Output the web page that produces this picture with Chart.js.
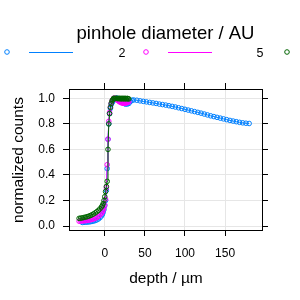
<!DOCTYPE html>
<html>
<head>
<meta charset="utf-8">
<script src="https://cdn.jsdelivr.net/npm/chart.js@4"></script>
<style>
  html, body { margin: 0; padding: 0; background: #fff; }
  #plot { display: block; }
</style>
</head>
<body>
<canvas id="plot" width="300" height="300"></canvas>
<script>
// pinhole diameters (legend labels)
const seriesNames = ["2", "5", "10"];
const seriesColors = ["#0080ff", "#ff00ff", "#006400"];

// depth / µm and normalized counts
const depth2 = [-28, -26, -24, -22, -20, -18, -16, -14, -12, -10, -8, -6, -4, -3, -2, -1, 0, 1, 2, 3, 4, 5, 6, 7, 8, 9, 10,
    11, 12, 13, 14, 15, 16, 17, 18, 19, 20, 21, 22, 23, 24, 25, 26, 28, 30, 32, 34, 36, 40, 44, 48, 52, 56, 60, 64, 68,
    72, 76, 80, 84, 88, 92, 96, 100, 104, 108, 112, 116, 120, 124, 128, 132, 136, 140, 144, 148, 152, 156, 160, 164,
    168, 172, 176, 180];
const counts2 = [0.028, 0.029, 0.030, 0.031, 0.032, 0.034, 0.036, 0.039, 0.043, 0.048, 0.055, 0.065, 0.080, 0.092, 0.108,
    0.130, 0.160, 0.200, 0.280, 0.450, 0.680, 0.800, 0.880, 0.920, 0.950, 0.965, 0.975,
    0.985, 0.990, 0.995, 1.000, 1.000, 1.000, 0.995, 0.990, 0.985, 0.980, 0.975, 0.970, 0.965, 0.960, 0.958, 0.955,
    0.955, 0.960, 0.975, 0.985, 0.987, 0.985, 0.980, 0.976, 0.972, 0.968, 0.964, 0.960, 0.955,
    0.951, 0.947, 0.942, 0.937, 0.932, 0.926, 0.920, 0.914, 0.908, 0.902, 0.896, 0.890, 0.884, 0.877, 0.870, 0.863,
    0.857, 0.851, 0.845, 0.839, 0.833, 0.827, 0.822, 0.817, 0.812, 0.808, 0.805, 0.803];

const depth5 = [-32, -30, -28, -26, -24, -22, -20, -18, -16, -14, -12, -10, -8, -6, -4, -3, -2, -1, 0, 1, 2, 3, 4, 5, 6,
    7, 8, 9, 10, 11, 12, 13, 14, 15, 16, 17, 18, 19, 20, 21, 22, 23, 24, 25, 26, 27, 28, 29, 30];
const counts5 = [0.038, 0.039, 0.040, 0.041, 0.042, 0.044, 0.046, 0.049, 0.052, 0.056, 0.061, 0.067, 0.075, 0.086, 0.100,
    0.112, 0.125, 0.145, 0.165, 0.210, 0.300, 0.480, 0.680, 0.820, 0.890,
    0.930, 0.960, 0.980, 0.990, 1.000, 1.000, 1.000, 0.995, 0.990, 0.985, 0.980, 0.975, 0.970, 0.968, 0.965, 0.963,
    0.962, 0.962, 0.962, 0.963, 0.965, 0.967, 0.970, 0.972];

const depth10 = [-32, -30, -28, -26, -24, -22, -20, -18, -16, -14, -12, -10, -8, -6, -4, -3, -2, -1, 0, 1, 2, 3, 4, 5,
    6, 7, 8, 9, 10, 11, 12, 13, 14, 15, 16, 17, 18, 19, 20, 21, 22, 23, 24, 25, 26, 27, 28, 29, 30];
const counts10 = [0.060, 0.062, 0.064, 0.067, 0.070, 0.073, 0.077, 0.082, 0.088, 0.095, 0.103, 0.112, 0.122, 0.135, 0.150,
    0.160, 0.175, 0.200, 0.230, 0.270, 0.310, 0.350, 0.600, 0.800,
    0.880, 0.930, 0.960, 0.980, 0.990, 1.000, 1.000, 0.998, 1.000, 1.000, 0.997, 1.000, 0.998, 1.000, 0.995, 1.000,
    0.997, 1.000, 0.995, 1.000, 0.998, 0.995, 1.000, 0.997, 0.995];

// axes
const xTicks = [0, 50, 100, 150];
const yTicks = [0, 0.2, 0.4, 0.6, 0.8, 1.0];
const xRange = [-44.6, 196];
const yRange = [-0.031, 1.073];

Chart.defaults.font.family = "'Liberation Sans', Arial, sans-serif";
Chart.defaults.color = "#000";

const toPoints = (xs, ys) => xs.map((x, i) => ({ x: x, y: ys[i] }));
const setTicks = (list) => (scale) => { scale.ticks = list.map(v => ({ value: v })); };

// lattice style key and axis titles
const latticeText = {
    id: "latticeText",
    afterDraw(chart) {
        const ctx = chart.ctx;
        ctx.save();
        ctx.fillStyle = "#000";
        ctx.textAlign = "center";
        ctx.textBaseline = "middle";

        ctx.font = "18.5px 'Liberation Sans', Arial, sans-serif";
        ctx.fillText("pinhole diameter / AU", 165.5, 34);

        // key row
        const keyY = 52;
        const keyItems = [
            { circle: 7, line: [29, 73], label: 122 },
            { circle: 146, line: [168, 212], label: 260 },
            { circle: 287, line: null, label: null },
        ];
        keyItems.forEach((k, i) => {
            ctx.strokeStyle = seriesColors[i];
            ctx.lineWidth = 1;
            ctx.beginPath();
            ctx.arc(k.circle, keyY, 2.3, 0, Math.PI * 2);
            ctx.stroke();
            if (k.line) {
                ctx.beginPath();
                ctx.moveTo(k.line[0], keyY + 0.5);
                ctx.lineTo(k.line[1], keyY + 0.5);
                ctx.stroke();
            }
            if (k.label !== null) {
                ctx.font = "12.5px 'Liberation Sans', Arial, sans-serif";
                ctx.fillText(seriesNames[i], k.label, keyY + 2);
            }
        });

        ctx.font = "15.5px 'Liberation Sans', Arial, sans-serif";
        ctx.fillText("depth / \u00b5m", 166, 279);

        ctx.translate(18.5, 160);
        ctx.rotate(-Math.PI / 2);
        ctx.fillText("normalized counts", 0, 0);
        ctx.restore();
    }
};

const gridLines = { color: "#e6e6e6", tickColor: "#000", tickLength: 6, lineWidth: 1 };
const edge = { display: true, color: "#000", width: 1 };

new Chart(document.getElementById("plot"), {
    type: "scatter",
    plugins: [latticeText],
    data: {
        datasets: [
            { label: seriesNames[0], data: toPoints(depth2, counts2), order: 3 },
            { label: seriesNames[1], data: toPoints(depth5, counts5), order: 2 },
            { label: seriesNames[2], data: toPoints(depth10, counts10), order: 1 },
        ].map((d, i) => Object.assign(d, {
            showLine: true,
            borderColor: seriesColors[i],
            borderWidth: 1,
            pointRadius: 2.3,
            pointBorderWidth: 1,
            pointBorderColor: seriesColors[i],
            pointBackgroundColor: "rgba(0,0,0,0)",
        })),
    },
    options: {
        responsive: false,
        animation: false,
        layout: { padding: { top: 83, right: 32, bottom: 0, left: 0 } },
        plugins: { legend: { display: false }, tooltip: { enabled: false } },
        scales: {
            x: {
                type: "linear", position: "bottom", min: xRange[0], max: xRange[1],
                afterBuildTicks: setTicks(xTicks),
                afterFit: (s) => { s.height = 70; },
                grid: gridLines, border: edge,
                ticks: { font: { size: 12 }, padding: 10, maxRotation: 0 },
            },
            x2: {
                type: "linear", position: "top", min: xRange[0], max: xRange[1],
                afterBuildTicks: setTicks(xTicks),
                afterFit: (s) => { s.height = 6; },
                grid: Object.assign({}, gridLines, { drawOnChartArea: false }), border: edge,
                ticks: { display: false },
            },
            y: {
                type: "linear", position: "left", min: yRange[0], max: yRange[1],
                afterBuildTicks: setTicks(yTicks),
                afterFit: (s) => { s.width = 69; },
                grid: gridLines, border: edge,
                ticks: { font: { size: 12 }, padding: 8, callback: (v) => v.toFixed(1) },
            },
            y2: {
                type: "linear", position: "right", min: yRange[0], max: yRange[1],
                afterBuildTicks: setTicks(yTicks),
                afterFit: (s) => { s.width = 6; },
                grid: Object.assign({}, gridLines, { drawOnChartArea: false }), border: edge,
                ticks: { display: false },
            },
        },
    },
});
</script>
</body>
</html>
